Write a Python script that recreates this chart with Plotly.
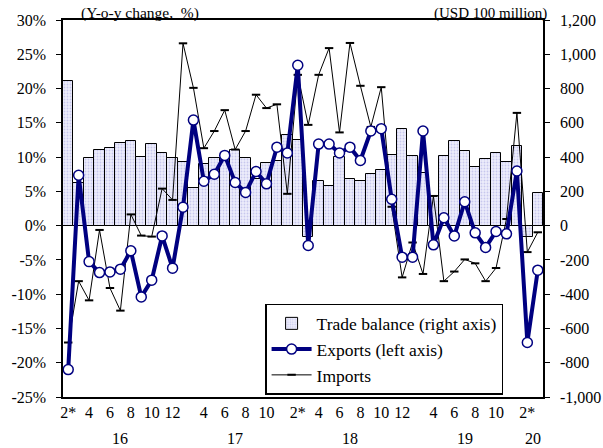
import plotly.graph_objects as go

# Monthly data, Jan-Feb combined ("2*"), Feb 2016 - Mar 2020
month_labels = ["2*", "3", "4", "5", "6", "7", "8", "9", "10", "11", "12",
                "2*", "3", "4", "5", "6", "7", "8", "9", "10", "11", "12",
                "2*", "3", "4", "5", "6", "7", "8", "9", "10", "11", "12",
                "2*", "3", "4", "5", "6", "7", "8", "9", "10", "11", "12",
                "2*", "3"]
year_of_month = ["16"] * 11 + ["17"] * 11 + ["18"] * 11 + ["19"] * 11 + ["20"] * 2

# Tick labels shown on the month axis ("" = unlabeled month)
shown_ticks = ["2*", "", "4", "", "6", "", "8", "", "10", "", "12",
               "", "", "4", "", "6", "", "8", "", "10", "", "",
               "2*", "", "4", "", "6", "", "8", "", "10", "", "12",
               "", "", "4", "", "6", "", "8", "", "10", "", "",
               "2*", ""]

# Trade balance, USD 100 million (right axis)
trade_balance = [845, 246, 394, 442, 452, 481, 495, 400, 479, 425, 392,
                 373, 221, 357, 392, 392, 442, 392, 275, 366, 380, 530,
                 502, -64, 259, 230, 401, 274, 259, 302, 324, 414, 564,
                 409, 310, 172, 409, 494, 435, 345, 386, 423, 373, 464,
                 -64, 192]

# Exports, y-o-y % (left axis)
exports = [-21.0, 7.35, -5.25, -6.85, -6.75, -6.35, -3.67, -10.4, -7.95, -1.5, -6.2,
           2.7, 15.4, 6.47, 7.5, 10.25, 6.3, 4.85, 7.9, 6.1, 11.45, 10.6,
           23.4, -2.9, 11.9, 11.9, 10.6, 11.45, 9.5, 13.8, 14.15, 3.85, -4.6,
           -4.6, 13.8, -2.8, 1.15, -1.5, 3.48, -1.05, -3.18, -0.85, -1.2, 7.97,
           -17.05, -6.5]

# Imports, y-o-y % (left axis)
imports = [-17.05, -8.1, -10.9, -0.63, -9.1, -12.4, 1.64, -1.45, -1.6, 5.4, 3.75,
           26.6, 20.1, 11.3, 13.8, 16.85, 11.1, 13.8, 19.1, 17.15, 17.7, 4.64,
           22.0, 14.7, 22.0, 25.9, 13.6, 26.65, 20.4, 14.4, 20.2, 2.75, -7.55,
           -2.46, -7.05, 4.33, -8.1, -6.7, -4.93, -5.5, -8.1, -6.18, 0.97, 16.45,
           -3.86, -0.97]

left_ticks = [30, 25, 20, 15, 10, 5, 0, -5, -10, -15, -20, -25]
left_tick_text = ["30%", "25%", "20%", "15%", "10%", "5%", "0%", "-5%", "-10%", "-15%", "-20%", "-25%"]
right_ticks = [1200, 1000, 800, 600, 400, 200, 0, -200, -400, -600, -800, -1000]
right_tick_text = ["1,200", "1,000", "800", "600", "400", "200", "0", "-200", "-400", "-600", "-800", "-1,000"]

x = list(range(len(month_labels)))
FONT = "Liberation Serif"

fig = go.Figure()

fig.add_trace(go.Bar(
    x=x, y=trade_balance, name="Trade balance (right axis)", yaxis="y",
    marker=dict(color="#e6e6f8", line=dict(color="black", width=1),
                pattern=dict(shape=".", fgcolor="#a4a4e0", bgcolor="#ededfb",
                             size=3, solidity=0.3)),
    legendrank=1, legendgroup="a",
))
fig.add_trace(go.Scatter(
    x=x, y=imports, name="Imports", yaxis="y2", mode="lines+markers",
    line=dict(color="black", width=1),
    marker=dict(symbol="line-ew", size=6, line=dict(color="black", width=2)),
    legendrank=3, legendgroup="c",
))
fig.add_trace(go.Scatter(
    x=x, y=exports, name="Exports (left axis)", yaxis="y2", mode="lines+markers",
    line=dict(color="#000080", width=4),
    marker=dict(symbol="circle", size=10, color="white",
                line=dict(color="#000080", width=1.5)),
    legendrank=2, legendgroup="b",
))

# Year labels centered under each year's months
annotations = []
for yr in dict.fromkeys(year_of_month):
    idx = [i for i, y in enumerate(year_of_month) if y == yr]
    annotations.append(dict(
        x=sum(idx) / len(idx), y=0, xref="x", yref="paper",
        yanchor="top", yshift=-31, text=yr, showarrow=False,
        font=dict(family=FONT, size=16, color="black"),
    ))
annotations.append(dict(
    x=0.16, y=1, xref="paper", yref="paper", xanchor="center", yanchor="bottom",
    yshift=-4, text="(Y-o-y change,  %)", showarrow=False,
    font=dict(family=FONT, size=15.5, color="black"),
))
annotations.append(dict(
    x=1.012, y=1, xref="paper", yref="paper", xanchor="right", yanchor="bottom",
    yshift=-4, text="(USD 100 million)", showarrow=False,
    font=dict(family=FONT, size=15, color="black"),
))

fig.update_layout(
    width=603, height=448,
    margin=dict(l=63, r=60, t=20, b=51, autoexpand=False),
    paper_bgcolor="white", plot_bgcolor="white",
    font=dict(family=FONT, size=16, color="black"),
    bargap=0,
    showlegend=True,
    legend=dict(
        x=0.421, y=0.2467, xanchor="left", yanchor="top",
        bgcolor="white", bordercolor="black", borderwidth=1.5,
        font=dict(family=FONT, size=17.5, color="black"),
        traceorder="grouped", tracegroupgap=0, itemwidth=40,
    ),
    xaxis=dict(
        range=[-0.5, len(x) - 0.5], tickmode="array", tickvals=x, ticktext=shown_ticks,
        showline=True, linecolor="black", linewidth=1.5, mirror=True,
        ticks="", showgrid=False, zeroline=False, automargin=False,
        tickfont=dict(family=FONT, size=16, color="black"),
    ),
    yaxis=dict(
        side="right", range=[-1000, 1200], tickmode="array",
        tickvals=right_ticks, ticktext=right_tick_text,
        showline=True, linecolor="black", linewidth=1.5, automargin=False,
        ticks="outside", ticklen=5, tickcolor="black", ticklabelstandoff=7,
        showgrid=False, zeroline=True, zerolinecolor="black", zerolinewidth=1,
        tickfont=dict(family=FONT, size=16, color="black"),
    ),
    yaxis2=dict(
        side="left", overlaying="y", range=[-25, 30], tickmode="array",
        tickvals=left_ticks, ticktext=left_tick_text,
        showline=True, linecolor="black", linewidth=1.5, automargin=False,
        ticks="outside", ticklen=5, tickcolor="black", ticklabelstandoff=7,
        showgrid=False, zeroline=False,
        tickfont=dict(family=FONT, size=16, color="black"),
    ),
    annotations=annotations,
)

fig.write_html("out.html")
